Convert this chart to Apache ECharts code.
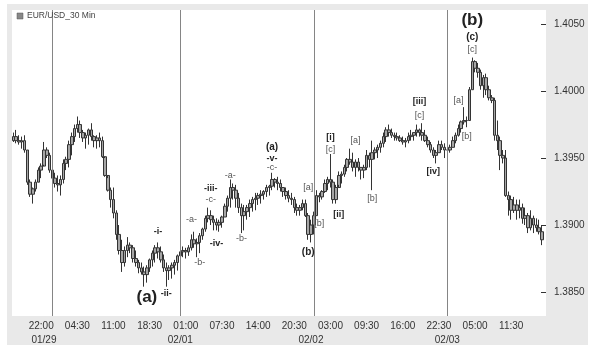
<!DOCTYPE html>
<html>
<head>
<meta charset="utf-8">
<script src="https://cdn.jsdelivr.net/npm/echarts@6/dist/echarts.min.js"></script>
<style>
html, body { margin: 0; padding: 0; background: #fff; }
#main { width: 598px; height: 355px; }
</style>
</head>
<body>
<div id="main"></div>
<script>
// EUR/USD 30 min bars
var firstOpen = 1.3963;
var closes = [
  1.3966, 1.3963, 1.3962, 1.3963, 1.3956, 1.3932, 1.3923, 1.3927, 1.3932, 1.3941,
  1.3944, 1.3956, 1.3952, 1.3941, 1.3935, 1.3931, 1.3930, 1.3934, 1.3946, 1.3949,
  1.3960, 1.3966, 1.3972, 1.3975, 1.3969, 1.3965, 1.3967, 1.3971, 1.3966, 1.3963,
  1.3965, 1.3963, 1.3951, 1.3937, 1.3926, 1.3919, 1.3909, 1.3893, 1.3881, 1.3872,
  1.3881, 1.3885, 1.3883, 1.3875, 1.3872, 1.3868, 1.3865, 1.3863, 1.3868, 1.3874,
  1.3879, 1.3883, 1.3880, 1.3874, 1.3868, 1.3866, 1.3868, 1.3870, 1.3872, 1.3877,
  1.3880, 1.3881, 1.3880, 1.3883, 1.3889, 1.3886, 1.3887, 1.3892, 1.3897, 1.3905,
  1.3907, 1.3904, 1.3902, 1.3900, 1.3902, 1.3906, 1.3914, 1.3920, 1.3928, 1.3926,
  1.3920, 1.3913, 1.3907, 1.3910, 1.3913, 1.3916, 1.3919, 1.3920, 1.3922, 1.3923,
  1.3925, 1.3928, 1.3929, 1.3934, 1.3932, 1.3931, 1.3928, 1.3925, 1.3922, 1.3920,
  1.3919, 1.3913, 1.3911, 1.3913, 1.3916, 1.3907, 1.3893, 1.3900, 1.3907, 1.3922,
  1.3921, 1.3925, 1.3931, 1.3934, 1.3932, 1.3919, 1.3928, 1.3937, 1.3938, 1.3943,
  1.3949, 1.3947, 1.3943, 1.3947, 1.3943, 1.3941, 1.3943, 1.3952, 1.3949, 1.3954,
  1.3956, 1.3958, 1.3961, 1.3966, 1.3971, 1.3969, 1.3967, 1.3966, 1.3965, 1.3963,
  1.3962, 1.3963, 1.3966, 1.3967, 1.3969, 1.3971, 1.3969, 1.3967, 1.3963, 1.3960,
  1.3956, 1.3952, 1.3954, 1.3960, 1.3958, 1.3956, 1.3956, 1.3958, 1.3963, 1.3967,
  1.3972, 1.3977, 1.3978, 1.3978, 1.4001, 1.4022, 1.4017, 1.4014, 1.4004, 1.4010,
  1.4001, 1.3995, 1.3993, 1.3967, 1.3963, 1.3952, 1.3950, 1.3922, 1.3919, 1.3911,
  1.3915, 1.3911, 1.3913, 1.3905, 1.3907, 1.3898, 1.3905, 1.3900, 1.3898, 1.3895,
  1.3889
];
var highs = [
  1.3969, 1.3971, 1.3967, 1.3966, 1.3967, 1.3956, 1.3934, 1.3928, 1.3934, 1.3943,
  1.3946, 1.3962, 1.3958, 1.3954, 1.3941, 1.3939, 1.3937, 1.3937, 1.3949, 1.3951,
  1.3963, 1.3969, 1.3975, 1.3981, 1.3978, 1.3971, 1.3969, 1.3972, 1.3976, 1.3967,
  1.3967, 1.3969, 1.3966, 1.3950, 1.3935, 1.3928, 1.3928, 1.3911, 1.3900, 1.3889,
  1.3884, 1.3891, 1.3887, 1.3885, 1.3881, 1.3874, 1.3872, 1.3869, 1.3870, 1.3875,
  1.3881, 1.3885, 1.3887, 1.3884, 1.3878, 1.3872, 1.3870, 1.3872, 1.3874, 1.3878,
  1.3883, 1.3884, 1.3883, 1.3885, 1.3893, 1.3895, 1.3890, 1.3894, 1.3898, 1.3907,
  1.3913, 1.3911, 1.3907, 1.3905, 1.3904, 1.3907, 1.3916, 1.3922, 1.3934, 1.3931,
  1.3930, 1.3924, 1.3916, 1.3915, 1.3915, 1.3919, 1.3921, 1.3924, 1.3924, 1.3926,
  1.3926, 1.3930, 1.3930, 1.3939, 1.3935, 1.3936, 1.3934, 1.3928, 1.3928, 1.3926,
  1.3924, 1.3921, 1.3916, 1.3915, 1.3919, 1.3919, 1.3909, 1.3904, 1.3910, 1.3926,
  1.3924, 1.3926, 1.3934, 1.3936, 1.3953, 1.3934, 1.3930, 1.3940, 1.3940, 1.3945,
  1.3950, 1.3957, 1.3954, 1.3949, 1.3950, 1.3943, 1.3945, 1.3956, 1.3954, 1.3963,
  1.3958, 1.3960, 1.3963, 1.3969, 1.3973, 1.3975, 1.3972, 1.3969, 1.3969, 1.3967,
  1.3966, 1.3965, 1.3969, 1.3971, 1.3969, 1.3975, 1.3972, 1.3976, 1.3971, 1.3966,
  1.3962, 1.3958, 1.3956, 1.3963, 1.3963, 1.3961, 1.3958, 1.3960, 1.3966, 1.3969,
  1.3975, 1.3978, 1.3988, 1.3981, 1.4003, 1.4025, 1.4023, 1.4021, 1.4016, 1.4012,
  1.4013, 1.4004, 1.3997, 1.3995, 1.3978, 1.3966, 1.3956, 1.3956, 1.3925, 1.3922,
  1.3921, 1.3919, 1.3919, 1.3916, 1.3913, 1.3909, 1.3911, 1.3907, 1.3905, 1.3904,
  1.3900
];
var lows = [
  1.3962, 1.3961, 1.3960, 1.3957, 1.3954, 1.3930, 1.3921, 1.3916, 1.3925, 1.3932,
  1.3935, 1.3945, 1.3950, 1.3939, 1.3930, 1.3928, 1.3925, 1.3922, 1.3931, 1.3941,
  1.3943, 1.3952, 1.3962, 1.3969, 1.3965, 1.3962, 1.3957, 1.3960, 1.3963, 1.3958,
  1.3957, 1.3958, 1.3950, 1.3936, 1.3925, 1.3913, 1.3905, 1.3889, 1.3878, 1.3865,
  1.3869, 1.3876, 1.3879, 1.3872, 1.3869, 1.3864, 1.3863, 1.3854, 1.3857, 1.3865,
  1.3869, 1.3872, 1.3875, 1.3872, 1.3865, 1.3854, 1.3859, 1.3860, 1.3863, 1.3866,
  1.3872, 1.3876, 1.3875, 1.3877, 1.3881, 1.3883, 1.3876, 1.3879, 1.3889, 1.3895,
  1.3902, 1.3900, 1.3896, 1.3896, 1.3895, 1.3898, 1.3906, 1.3910, 1.3913, 1.3919,
  1.3913, 1.3909, 1.3894, 1.3896, 1.3904, 1.3906, 1.3910, 1.3911, 1.3915, 1.3916,
  1.3919, 1.3921, 1.3922, 1.3926, 1.3928, 1.3926, 1.3925, 1.3921, 1.3919, 1.3917,
  1.3915, 1.3909, 1.3907, 1.3907, 1.3911, 1.3906, 1.3889, 1.3887, 1.3893, 1.3907,
  1.3917, 1.3919, 1.3924, 1.3926, 1.3928, 1.3916, 1.3916, 1.3930, 1.3931, 1.3936,
  1.3940, 1.3945, 1.3940, 1.3936, 1.3940, 1.3934, 1.3935, 1.3941, 1.3943, 1.3926,
  1.3949, 1.3950, 1.3954, 1.3958, 1.3962, 1.3966, 1.3965, 1.3963, 1.3963, 1.3962,
  1.3960, 1.3958, 1.3961, 1.3963, 1.3963, 1.3966, 1.3966, 1.3963, 1.3962, 1.3958,
  1.3954, 1.3950, 1.3946, 1.3954, 1.3956, 1.3950, 1.3952, 1.3954, 1.3958, 1.3961,
  1.3966, 1.3969, 1.3975, 1.3973, 1.3978, 1.4001, 1.4014, 1.4010, 1.4001, 1.3995,
  1.3997, 1.3993, 1.3991, 1.3963, 1.3956, 1.3941, 1.3946, 1.3921, 1.3907, 1.3904,
  1.3909, 1.3904, 1.3905, 1.3901, 1.3900, 1.3894, 1.3896, 1.3894, 1.3895, 1.3893,
  1.3885
];

// axis labels
var priceTicks = [1.3850, 1.3900, 1.3950, 1.4000, 1.4050];
var timeTickIdx = [10, 23, 36, 49, 62, 75, 88, 101, 114, 127, 140, 153, 166, 179];
var timeLabels = ['22:00', '04:30', '11:00', '18:30', '01:00', '07:30', '14:00',
                  '20:30', '03:00', '09:30', '16:00', '22:30', '05:00', '11:30'];
var dateIdx = [11, 60, 107, 156];
var dateLabels = ['01/29', '02/01', '02/02', '02/03'];
var dayLines = [14, 60, 108, 156];

// wave count: [bar index, price, text, kind]
var waveLabels = [
  [48, 1.3846, '(a)', 'big'],
  [52, 1.3895, '-i-', 'bold'],
  [55, 1.3849, '-ii-', 'bold'],
  [64, 1.3904, '-a-', 'plain'],
  [67, 1.3872, '-b-', 'plain'],
  [71, 1.3927, '-iii-', 'bold'],
  [71, 1.3919, '-c-', 'plain'],
  [73, 1.3886, '-iv-', 'bold'],
  [78, 1.3937, '-a-', 'plain'],
  [82, 1.3890, '-b-', 'plain'],
  [93, 1.3958, '(a)', 'mid'],
  [93, 1.3950, '-v-', 'bold'],
  [93, 1.3943, '-c-', 'plain'],
  [106, 1.3928, '[a]', 'plain'],
  [106, 1.3880, '(b)', 'mid'],
  [110, 1.3901, '[b]', 'plain'],
  [114, 1.3965, '[i]', 'bold'],
  [114, 1.3956, '[c]', 'plain'],
  [117, 1.3908, '[ii]', 'bold'],
  [123, 1.3963, '[a]', 'plain'],
  [129, 1.3920, '[b]', 'plain'],
  [146, 1.3992, '[iii]', 'bold'],
  [146, 1.3982, '[c]', 'plain'],
  [151, 1.3940, '[iv]', 'bold'],
  [160, 1.3993, '[a]', 'plain'],
  [163, 1.3966, '[b]', 'plain'],
  [165, 1.4053, '(b)', 'big'],
  [165, 1.4040, '(c)', 'mid'],
  [165, 1.4031, '[c]', 'plain']
];

var ohlc = [];
var categories = [];
for (var i = 0; i < closes.length; i++) {
  var open = i === 0 ? firstOpen : closes[i - 1];
  ohlc.push([open, closes[i], lows[i], highs[i]]);
  categories.push(String(i));
}
categories.push(String(closes.length));

var labelStyles = {
  big: { fontSize: 17, fontWeight: 'bold', color: '#222' },
  mid: { fontSize: 10, fontWeight: 'bold', color: '#222' },
  bold: { fontSize: 9, fontWeight: 'bold', color: '#222' },
  plain: { fontSize: 9, fontWeight: 'normal', color: '#555' }
};

var font = "'Liberation Sans', Arial, sans-serif";
var myechart = echarts.init(document.getElementById('main'), null, { renderer: 'canvas' });

myechart.setOption({
  animation: false,
  backgroundColor: '#fff',
  textStyle: { fontFamily: font },
  graphic: [
    { type: 'rect', z: -10, shape: { x: 7, y: 4, width: 581, height: 341 }, style: { fill: '#e9e9e9' } },
    { type: 'rect', z: 100, shape: { x: 17, y: 13, width: 6, height: 6 }, style: { fill: '#888', stroke: '#555', lineWidth: 0.5 } },
    { type: 'text', z: 100, x: 27, y: 16, style: { text: 'EUR/USD_30 Min', fontSize: 8.5, fontFamily: font, fill: '#444', verticalAlign: 'middle' } }
  ],
  grid: {
    left: 12, right: 52, top: 10, bottom: 39,
    show: true, backgroundColor: '#fff', borderWidth: 0
  },
  xAxis: [
    {
      type: 'category',
      data: categories,
      boundaryGap: true,
      axisLine: { show: false },
      splitLine: { show: false },
      axisTick: {
        inside: true, length: 4, alignWithLabel: true,
        interval: function (idx) { return timeTickIdx.indexOf(idx) >= 0; },
        lineStyle: { color: '#444' }
      },
      axisLabel: {
        interval: function (idx) { return timeTickIdx.indexOf(idx) >= 0; },
        formatter: function (v, idx) { return timeLabels[timeTickIdx.indexOf(idx)] || ''; },
        margin: 5, fontSize: 10, color: '#333'
      }
    },
    {
      type: 'category',
      data: categories,
      boundaryGap: true,
      position: 'bottom',
      offset: 14,
      axisLine: { show: false },
      axisTick: { show: false },
      splitLine: { show: false },
      axisLabel: {
        interval: function (idx) { return dateIdx.indexOf(idx) >= 0; },
        formatter: function (v, idx) { return dateLabels[dateIdx.indexOf(idx)] || ''; },
        margin: 5, fontSize: 10, color: '#333'
      }
    }
  ],
  yAxis: {
    type: 'value',
    position: 'right',
    min: 1.38321,
    max: 1.40605,
    splitLine: { show: false },
    axisLine: { show: false },
    axisTick: {
      show: true, inside: true, length: 5, customValues: priceTicks,
      lineStyle: { color: '#333', width: 1 }
    },
    axisLabel: {
      customValues: priceTicks,
      formatter: function (v) { return v.toFixed(4); },
      margin: 8, fontSize: 10, color: '#333'
    }
  },
  series: [
    {
      name: 'EUR/USD',
      type: 'candlestick',
      xAxisIndex: 0,
      barWidth: 3,
      data: ohlc,
      itemStyle: {
        color: '#a6a6a6', color0: '#a6a6a6',
        borderColor: '#333', borderColor0: '#333',
        borderWidth: 1
      },
      markLine: {
        silent: true,
        symbol: 'none',
        label: { show: false },
        lineStyle: { color: '#858585', width: 1, type: 'solid' },
        data: dayLines.map(function (d) { return { xAxis: d }; })
      },
      markPoint: {
        silent: true,
        symbol: 'circle',
        symbolSize: 0,
        data: waveLabels.map(function (w) {
          var s = labelStyles[w[3]];
          return {
            coord: [w[0], w[1]],
            label: {
              show: true, position: 'inside', formatter: w[2],
              fontSize: s.fontSize, fontWeight: s.fontWeight, color: s.color,
              fontFamily: font
            }
          };
        })
      }
    }
  ]
});
</script>
</body>
</html>
